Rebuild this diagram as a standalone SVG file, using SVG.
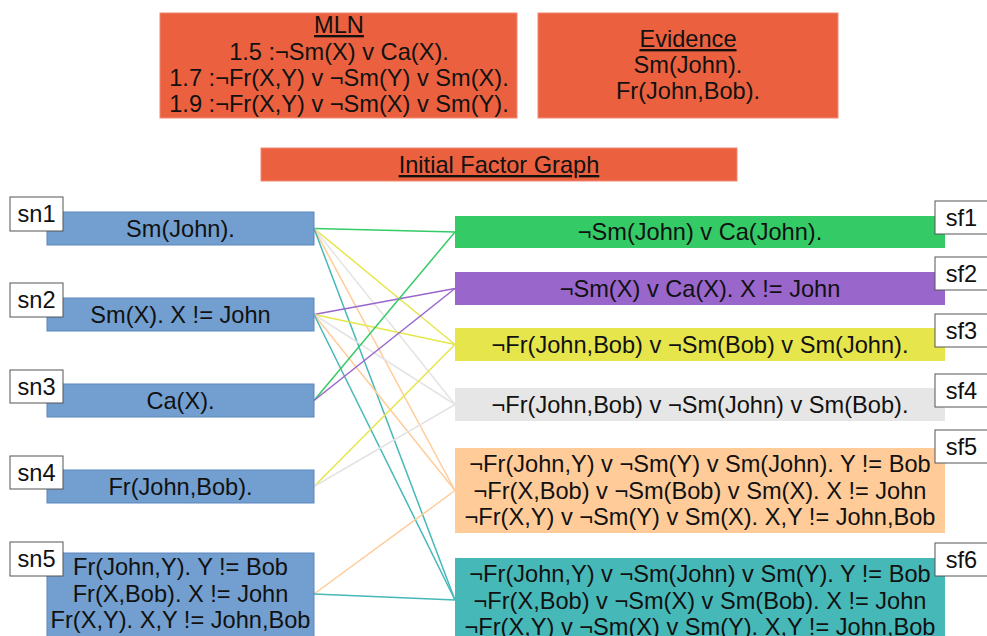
<svg xmlns="http://www.w3.org/2000/svg" width="987" height="636" viewBox="0 0 987 636">
  <style>
    text { font-family: "Liberation Sans", Arial, sans-serif; font-size: 23.6px; fill: #111; text-anchor: middle; }
    .u { text-decoration: underline; }
    .hdr { fill: #eb613f; stroke: #f08a70; stroke-width: 1; }
    .sn { fill: #729fcf; stroke: #5a86bd; stroke-width: 1; }
    .tag { fill: #ffffff; stroke: #555555; stroke-width: 1; }
    .f1 { fill: #34cb67; }
    .f2 { fill: #9966cc; }
    .f3 { fill: #e6e64c; }
    .f4 { fill: #e6e6e6; }
    .f5 { fill: #ffcc99; }
    .f6 { fill: #47b8b8; }
    .e { fill: none; stroke-width: 1.5; }
    .eg { stroke: #34cb67; }
    .ep { stroke: #9966cc; }
    .ey { stroke: #e6e64c; }
    .ew { stroke: #e4e4e4; }
    .eo { stroke: #ffcc99; }
    .et { stroke: #47b8b8; }
  </style>

  <!-- header panels -->
  <g id="mln">
    <rect class="hdr" x="160" y="13" width="357" height="105"/>
    <text x="339" y="33" class="u">MLN</text>
    <text x="339" y="60">1.5 :¬Sm(X) v Ca(X).</text>
    <text x="339" y="86">1.7 :¬Fr(X,Y) v ¬Sm(Y) v Sm(X).</text>
    <text x="339" y="112">1.9 :¬Fr(X,Y) v ¬Sm(X) v Sm(Y).</text>
  </g>
  <g id="evidence">
    <rect class="hdr" x="538" y="13" width="300" height="105"/>
    <text x="688" y="47" class="u">Evidence</text>
    <text x="688" y="73">Sm(John).</text>
    <text x="688" y="99">Fr(John,Bob).</text>
  </g>
  <g id="title">
    <rect class="hdr" x="261" y="148" width="476" height="33"/>
    <text x="499" y="173" class="u">Initial Factor Graph</text>
  </g>

  <!-- connectors: variable nodes (right edge) to factor nodes (left edge) -->
  <g id="connectors">
    <line class="e eg" x1="314" y1="228.5" x2="455" y2="232"/>
    <line class="e ey" x1="314" y1="228.5" x2="455" y2="344.5"/>
    <line class="e ew" x1="314" y1="228.5" x2="455" y2="404.5"/>
    <line class="e eo" x1="314" y1="228.5" x2="455" y2="490.5"/>
    <line class="e et" x1="314" y1="228.5" x2="455" y2="600"/>

    <line class="e ep" x1="314" y1="314.5" x2="455" y2="288.5"/>
    <line class="e ey" x1="314" y1="314.5" x2="455" y2="344.5"/>
    <line class="e ew" x1="314" y1="314.5" x2="455" y2="404.5"/>
    <line class="e eo" x1="314" y1="314.5" x2="455" y2="490.5"/>
    <line class="e et" x1="314" y1="314.5" x2="455" y2="600"/>

    <line class="e eg" x1="314" y1="400.5" x2="455" y2="232"/>
    <line class="e ep" x1="314" y1="400.5" x2="455" y2="288.5"/>

    <line class="e ey" x1="314" y1="486.5" x2="455" y2="344.5"/>
    <line class="e ew" x1="314" y1="486.5" x2="455" y2="404.5"/>

    <line class="e eo" x1="314" y1="594" x2="455" y2="490.5"/>
    <line class="e et" x1="314" y1="594" x2="455" y2="600"/>
  </g>

  <!-- variable nodes -->
  <g id="sn1">
    <rect class="sn" x="47" y="212" width="267" height="33"/>
    <text x="180.5" y="237">Sm(John).</text>
    <rect class="tag" x="10" y="197" width="53" height="34"/>
    <text x="36.5" y="222">sn1</text>
  </g>
  <g id="sn2">
    <rect class="sn" x="47" y="298" width="267" height="33"/>
    <text x="180.5" y="323">Sm(X). X != John</text>
    <rect class="tag" x="10" y="283" width="53" height="34"/>
    <text x="36.5" y="308">sn2</text>
  </g>
  <g id="sn3">
    <rect class="sn" x="47" y="384" width="267" height="33"/>
    <text x="180.5" y="409">Ca(X).</text>
    <rect class="tag" x="10" y="370" width="53" height="33"/>
    <text x="36.5" y="395">sn3</text>
  </g>
  <g id="sn4">
    <rect class="sn" x="47" y="470" width="267" height="33"/>
    <text x="180.5" y="495">Fr(John,Bob).</text>
    <rect class="tag" x="10" y="456" width="53" height="33"/>
    <text x="36.5" y="481">sn4</text>
  </g>
  <g id="sn5">
    <rect class="sn" x="47" y="553" width="267" height="84"/>
    <text x="180.5" y="575">Fr(John,Y). Y != Bob</text>
    <text x="180.5" y="602">Fr(X,Bob). X != John</text>
    <text x="180.5" y="628">Fr(X,Y). X,Y != John,Bob</text>
    <rect class="tag" x="10" y="542" width="53" height="34"/>
    <text x="36.5" y="567">sn5</text>
  </g>

  <!-- factor nodes -->
  <g id="sf1">
    <rect class="f1" x="455" y="216" width="490" height="32"/>
    <text x="700" y="240">¬Sm(John) v Ca(John).</text>
    <rect class="tag" x="935" y="201" width="53" height="33"/>
    <text x="961.5" y="226">sf1</text>
  </g>
  <g id="sf2">
    <rect class="f2" x="455" y="272" width="490" height="33"/>
    <text x="700" y="297">¬Sm(X) v Ca(X). X != John</text>
    <rect class="tag" x="935" y="257" width="53" height="33"/>
    <text x="961.5" y="282">sf2</text>
  </g>
  <g id="sf3">
    <rect class="f3" x="455" y="328" width="490" height="33"/>
    <text x="700" y="353">¬Fr(John,Bob) v ¬Sm(Bob) v Sm(John).</text>
    <rect class="tag" x="935" y="314" width="53" height="33"/>
    <text x="961.5" y="339">sf3</text>
  </g>
  <g id="sf4">
    <rect class="f4" x="455" y="388" width="490" height="33"/>
    <text x="700" y="413">¬Fr(John,Bob) v ¬Sm(John) v Sm(Bob).</text>
    <rect class="tag" x="935" y="374" width="53" height="33"/>
    <text x="961.5" y="399">sf4</text>
  </g>
  <g id="sf5">
    <rect class="f5" x="455" y="448" width="490" height="85"/>
    <text x="700" y="472">¬Fr(John,Y) v ¬Sm(Y) v Sm(John). Y != Bob</text>
    <text x="700" y="499">¬Fr(X,Bob) v ¬Sm(Bob) v Sm(X). X != John</text>
    <text x="700" y="525">¬Fr(X,Y) v ¬Sm(Y) v Sm(X). X,Y != John,Bob</text>
    <rect class="tag" x="935" y="430" width="53" height="33"/>
    <text x="961.5" y="455">sf5</text>
  </g>
  <g id="sf6">
    <rect class="f6" x="455" y="558" width="490" height="85"/>
    <text x="700" y="582">¬Fr(John,Y) v ¬Sm(John) v Sm(Y). Y != Bob</text>
    <text x="700" y="609">¬Fr(X,Bob) v ¬Sm(X) v Sm(Bob). X != John</text>
    <text x="700" y="635">¬Fr(X,Y) v ¬Sm(X) v Sm(Y). X,Y != John,Bob</text>
    <rect class="tag" x="935" y="543" width="53" height="33"/>
    <text x="961.5" y="568">sf6</text>
  </g>
</svg>
